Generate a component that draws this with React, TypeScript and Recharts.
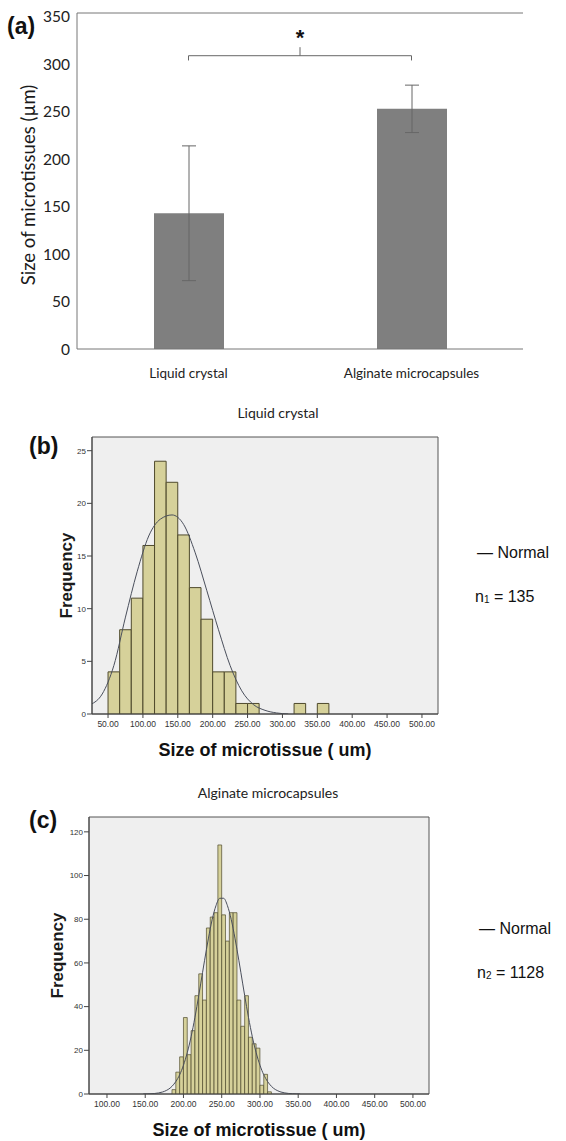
import {
  Bar,
  BarChart,
  CartesianGrid,
  ComposedChart,
  ErrorBar,
  Label,
  Line,
  ReferenceArea,
  ReferenceDot,
  ReferenceLine,
  XAxis,
  YAxis,
} from 'recharts'

// (a) mean size per group with SD
const groups = ['Liquid crystal', 'Alginate microcapsules']
const meanSize = [143, 253]
const sdSize = [71, 25]
const sizeTicks = [0, 50, 100, 150, 200, 250, 300, 350]
const sizeMax = 354
// significance bracket (y values in µm)
const bracketFoot = 304
const bracketBar = 309
const bracketStem = 318
const starAt = 336

// (b) liquid crystal histogram, bins of 50/3 um
const lcMid = [25, 41.67, 58.33, 75, 91.67, 108.33, 125, 141.67, 158.33, 175, 191.67, 208.33, 225, 241.67, 258.33, 275, 291.67, 308.33, 325, 341.67, 358.33]
const lcCount = [null, null, 4, 8, 11, 16, 24, 22, 17, 12, 9, 4, 4, 1, 1, null, null, null, 1, null, 1]
const lcFit = [0.9, 1.9, 4.6, 9.2, 13.5, 16.9, 18.5, 18.9, 18.0, 15.3, 11.7, 8.0, 4.6, 2.2, 0.9, 0.35, 0.1, 0, null, null, null]
const lcXTicks = [50, 100, 150, 200, 250, 300, 350, 400, 450, 500]
const lcYTicks = [0, 5, 10, 15, 20, 25]

// (c) alginate microcapsules histogram, bins of 5 um
const alMid = [
  147.5, 152.5, 157.5, 162.5, 167.5, 172.5, 177.5, 182.5, 187.5, 192.5, 197.5, 202.5, 207.5, 212.5,
  217.5, 222.5, 227.5, 232.5, 237.5, 242.5, 247.5, 252.5, 257.5, 262.5, 267.5, 272.5, 277.5, 282.5,
  287.5, 292.5, 297.5, 302.5, 307.5, 312.5, 317.5, 322.5, 327.5, 332.5, 337.5, 342.5, 347.5, 352.5,
]
const alCount = [
  null, null, null, null, null, null, null, null, 2, 10, 17, 35, 18, 29,
  45, 55, 43, 76, 81, 83, 114, 82, 70, 83, 83, 43, 31, 45,
  26, 23, 21, 4, 9, 1, null, null, null, null, null, null, null, null,
]
const alFit = [
  0.03, 0.06, 0.12, 0.25, 0.5, 0.9, 1.6, 2.7, 4.5, 7.1, 10.8, 15.9, 22.4, 30.5,
  40, 50.4, 61, 71, 79.8, 86.2, 89.6, 89.6, 86.2, 79.8, 71, 61, 50.4, 40,
  30.5, 22.4, 15.9, 10.8, 7.1, 4.5, 2.7, 1.6, 0.9, 0.5, 0.25, 0.12, 0.06, 0.03,
]
const alXTicks = [100, 150, 200, 250, 300, 350, 400, 450, 500]
const alYTicks = [0, 20, 40, 60, 80, 100, 120]

const calibri = 'Lato, "Open Sans", sans-serif'
const arial = '"Liberation Sans", Arial, sans-serif'

function VerticalTitle(props: any) {
  const { viewBox, value, cx, size, weight, family, shift = 0 } = props
  const cy = viewBox.y + viewBox.height / 2 + shift
  return (
    <text
      x={cx}
      y={cy}
      transform={`rotate(-90 ${cx} ${cy})`}
      textAnchor="middle"
      dominantBaseline="central"
      fill="#1a1a1a"
      style={{ fontSize: size, fontWeight: weight, fontFamily: family }}
    >
      {value}
    </text>
  )
}

function SizeBars() {
  // groups sit at the middle of unit slots on a numeric axis, so the bracket can use the same scale
  const data = groups.map((g, i) => ({ pos: i + 0.5, group: g, mean: meanSize[i], sd: sdSize[i] }))
  const left = data[0].pos
  const right = data[1].pos
  const mid = (left + right) / 2
  return (
    <BarChart width={566} height={400} data={data} margin={{ top: 13, right: 43, left: 17, bottom: 21 }}>
      <XAxis
        dataKey="pos"
        type="number"
        domain={[0, groups.length]}
        ticks={data.map((d) => d.pos)}
        interval={0}
        allowDataOverflow
        tickFormatter={(v: number) => groups[Math.floor(v)]}
        height={30}
        axisLine={{ stroke: '#777' }}
        tickLine={false}
        tickSize={0}
        tickMargin={19}
        tick={{ fill: '#222', fontSize: 13.5, fontFamily: calibri }}
      />
      <YAxis
        width={60}
        domain={[0, sizeMax]}
        ticks={sizeTicks}
        allowDataOverflow
        axisLine={{ stroke: '#777' }}
        tickLine={false}
        tickSize={0}
        tickMargin={7}
        tick={{ fill: '#222', fontSize: 15.5, fontFamily: calibri }}
      >
        <Label
          content={(p: any) => (
            <VerticalTitle {...p} value="Size of microtissues (µm)" cx={28} shift={4} size={18.5} weight={400} family={calibri} />
          )}
        />
      </YAxis>
      <ReferenceLine y={sizeMax} stroke="#777" />
      <Bar dataKey="mean" fill="#7f7f7f" barSize={70} isAnimationActive={false}>
        <ErrorBar dataKey="sd" width={7} stroke="#666" strokeWidth={1} direction="y" />
      </Bar>
      <ReferenceLine segment={[{ x: left, y: bracketFoot }, { x: left, y: bracketBar }]} stroke="#666" />
      <ReferenceLine segment={[{ x: left, y: bracketBar }, { x: right, y: bracketBar }]} stroke="#666" />
      <ReferenceLine segment={[{ x: right, y: bracketFoot }, { x: right, y: bracketBar }]} stroke="#666" />
      <ReferenceLine segment={[{ x: mid, y: bracketBar }, { x: mid, y: bracketStem }]} stroke="#666" />
      <ReferenceDot
        x={mid}
        y={starAt}
        r={1}
        fill="none"
        stroke="none"
        label={{ value: '*', position: 'center', fill: '#111', fontSize: 22, fontWeight: 700, fontFamily: arial, dy: 7 }}
      />
    </BarChart>
  )
}

interface HistProps {
  mids: number[]
  counts: Array<number | null>
  fit: Array<number | null>
  binWidth: number
  xDomain: [number, number]
  xTicks: number[]
  yMax: number
  yTicks: number[]
  left: number
  right: number
  titleX: number
  barStroke: number
}

function Histogram({
  mids,
  counts,
  fit,
  binWidth,
  xDomain,
  xTicks,
  yMax,
  yTicks,
  left,
  right,
  titleX,
  barStroke,
}: HistProps) {
  const width = 566
  const yAxisWidth = 30
  const plotWidth = width - left - right
  const barSize = (binWidth * plotWidth) / (xDomain[1] - xDomain[0]) - 0.05
  const data = mids.map((m, i) => ({ x: m, count: counts[i], fit: fit[i] }))
  return (
    <ComposedChart
      width={width}
      height={335}
      data={data}
      margin={{ top: 7, right, left: left - yAxisWidth, bottom: 1 }}
    >
      <CartesianGrid horizontal={false} vertical={false} fill="#efefef" fillOpacity={1} />
      <XAxis
        dataKey="x"
        type="number"
        domain={xDomain}
        ticks={xTicks}
        interval={0}
        allowDataOverflow
        height={50}
        axisLine={{ stroke: '#444' }}
        tickLine={{ stroke: '#444' }}
        tickSize={4}
        tickMargin={3}
        tickFormatter={(v: number) => v.toFixed(2)}
        tick={{ fill: '#333', fontSize: 8.5, fontFamily: arial }}
      >
        <Label
          value="Size of microtissue ( um)"
          position="insideBottom"
          offset={8}
          style={{ fontSize: 18, fontWeight: 700, fontFamily: arial, fill: '#111' }}
        />
      </XAxis>
      <YAxis
        width={yAxisWidth}
        domain={[0, yMax]}
        ticks={yTicks}
        allowDataOverflow
        axisLine={{ stroke: '#444' }}
        tickLine={{ stroke: '#444' }}
        tickSize={5}
        tickMargin={1}
        tick={{ fill: '#333', fontSize: 8, fontFamily: arial }}
      >
        <Label
          content={(p: any) => (
            <VerticalTitle {...p} value="Frequency" cx={titleX} size={17} weight={700} family={arial} />
          )}
        />
      </YAxis>
      <ReferenceArea x1={xDomain[0]} x2={xDomain[1]} y1={0} y2={yMax} fill="none" stroke="#555" />
      <Bar
        dataKey="count"
        fill="#d6d19a"
        stroke="#4f4a2c"
        strokeWidth={barStroke}
        barSize={barSize}
        isAnimationActive={false}
      />
      <Line
        dataKey="fit"
        type="monotone"
        stroke="#4a4f5c"
        strokeWidth={1}
        dot={false}
        activeDot={false}
        connectNulls={false}
        isAnimationActive={false}
      />
    </ComposedChart>
  )
}

const panelLabel = { position: 'absolute' as const, fontFamily: arial, fontWeight: 700, fontSize: 23, lineHeight: '24px', color: '#111' }
const legendText = { position: 'absolute' as const, fontFamily: arial, fontSize: 16, lineHeight: '18px', color: '#111', whiteSpace: 'nowrap' as const }
const titleText = { position: 'absolute' as const, fontFamily: calibri, fontSize: 14, lineHeight: '16px', color: '#222', textAlign: 'center' as const, width: 240 }

export default function App() {
  return (
    <div style={{ position: 'absolute', left: 0, top: 0, width: 566, height: 1141, overflow: 'hidden', background: '#fff' }}>
      <div style={{ position: 'absolute', left: 0, top: 0 }}>
        <SizeBars />
      </div>
      <div style={{ ...panelLabel, left: 7, top: 14 }}>(a)</div>

      <div style={{ ...titleText, left: 278 - 120, top: 405 }}>Liquid crystal</div>
      <div style={{ ...panelLabel, left: 29, top: 434 }}>(b)</div>
      <div style={{ position: 'absolute', left: 0, top: 430 }}>
        <Histogram
          mids={lcMid}
          counts={lcCount}
          fit={lcFit}
          binWidth={50 / 3}
          xDomain={[27, 523]}
          xTicks={lcXTicks}
          yMax={26.3}
          yTicks={lcYTicks}
          left={92}
          right={128}
          titleX={66}
          barStroke={1}
        />
      </div>
      <div style={{ ...legendText, left: 477, top: 544 }}>— Normal</div>
      <div style={{ ...legendText, left: 475, top: 588 }}>
        n<span style={{ fontSize: 10, verticalAlign: -1 }}>1</span> = 135
      </div>

      <div style={{ ...titleText, left: 268 - 120, top: 785 }}>Alginate microcapsules</div>
      <div style={{ ...panelLabel, left: 29, top: 808 }}>(c)</div>
      <div style={{ position: 'absolute', left: 0, top: 810 }}>
        <Histogram
          mids={alMid}
          counts={alCount}
          fit={alFit}
          binWidth={5}
          xDomain={[76.5, 521]}
          xTicks={alXTicks}
          yMax={126.8}
          yTicks={alYTicks}
          left={89}
          right={137}
          titleX={57}
          barStroke={0.7}
        />
      </div>
      <div style={{ ...legendText, left: 479, top: 920 }}>— Normal</div>
      <div style={{ ...legendText, left: 477, top: 964 }}>
        n<span style={{ fontSize: 10, verticalAlign: -1 }}>2</span> = 1128
      </div>
    </div>
  )
}
